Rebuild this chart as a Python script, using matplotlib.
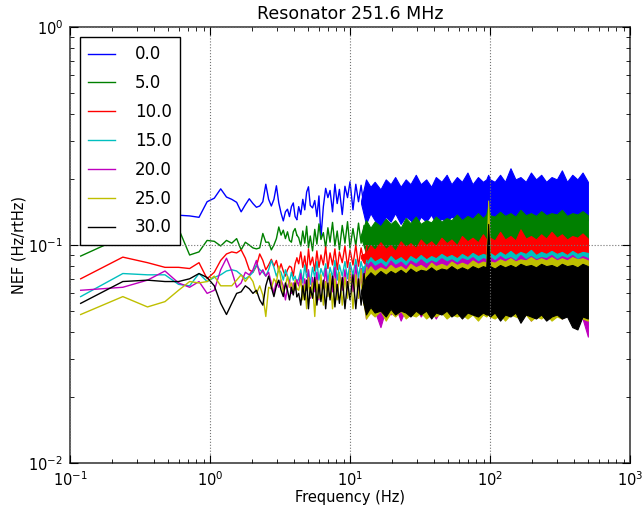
import numpy as np
import matplotlib
matplotlib.use("Agg")
import matplotlib.pyplot as plt

# FFT bin spacing of the spectra (Hz); the first 35 bins are drawn point by point
bin_hz = 0.1192
freq = bin_hz * np.arange(1, 36)

labels = ["0.0", "5.0", "10.0", "15.0", "20.0", "25.0", "30.0"]
colors = ["b", "g", "r", "c", "m", "y", "k"]

# low-frequency values (Hz/rtHz)
blue = [0.150, 0.145, 0.150, 0.140, 0.137, 0.136, 0.134, 0.158, 0.164, 0.181, 0.166, 0.162,
        0.157, 0.142, 0.153, 0.163, 0.155, 0.149, 0.151, 0.158, 0.190, 0.162, 0.151, 0.162,
        0.187, 0.156, 0.140, 0.129, 0.142, 0.146, 0.135, 0.150, 0.156, 0.135, 0.131]
green = [0.089, 0.109, 0.111, 0.119, 0.119, 0.090, 0.093, 0.105, 0.104, 0.099, 0.105, 0.102,
         0.107, 0.095, 0.103, 0.100, 0.097, 0.096, 0.097, 0.113, 0.103, 0.103, 0.095, 0.100,
         0.107, 0.121, 0.111, 0.117, 0.107, 0.115, 0.105, 0.103, 0.115, 0.119, 0.111]
red = [0.070, 0.088, 0.083, 0.079, 0.079, 0.078, 0.083, 0.070, 0.075, 0.085, 0.091, 0.093,
       0.092, 0.095, 0.087, 0.077, 0.075, 0.080, 0.091, 0.085, 0.077, 0.081, 0.086, 0.080,
       0.085, 0.076, 0.082, 0.076, 0.072, 0.077, 0.080, 0.079, 0.072, 0.082, 0.087]
cyan = [0.058, 0.074, 0.073, 0.073, 0.066, 0.065, 0.074, 0.068, 0.071, 0.073, 0.076, 0.077,
        0.076, 0.073, 0.070, 0.072, 0.075, 0.081, 0.077, 0.075, 0.072, 0.077, 0.085, 0.079,
        0.072, 0.077, 0.075, 0.069, 0.077, 0.072, 0.068, 0.075, 0.069, 0.072, 0.067]
magenta = [0.062, 0.064, 0.069, 0.076, 0.067, 0.064, 0.068, 0.060, 0.062, 0.077, 0.087, 0.076,
           0.064, 0.067, 0.075, 0.073, 0.077, 0.085, 0.073, 0.077, 0.072, 0.075, 0.067, 0.060,
           0.069, 0.064, 0.069, 0.065, 0.056, 0.064, 0.069, 0.060, 0.067, 0.062, 0.069]
yellow = [0.048, 0.058, 0.052, 0.055, 0.062, 0.068, 0.067, 0.068, 0.072, 0.065, 0.065, 0.065,
          0.069, 0.073, 0.068, 0.072, 0.068, 0.060, 0.065, 0.059, 0.047, 0.064, 0.063, 0.070,
          0.067, 0.080, 0.069, 0.060, 0.065, 0.072, 0.064, 0.067, 0.060, 0.069, 0.063]
black = [0.054, 0.068, 0.069, 0.068, 0.068, 0.070, 0.074, 0.071, 0.065, 0.054, 0.048, 0.054,
         0.060, 0.061, 0.065, 0.063, 0.060, 0.062, 0.056, 0.053, 0.065, 0.072, 0.064, 0.058,
         0.065, 0.069, 0.062, 0.058, 0.067, 0.062, 0.056, 0.064, 0.059, 0.067, 0.058]

# 4-13 Hz: the visible zig-zag of each trace (peaks and troughs)
trace_f = [4.3, 4.45, 4.6, 4.75, 4.9, 5.05, 5.2, 5.4, 5.6, 5.8,
           6.0, 6.2, 6.45, 6.7, 6.95, 7.2, 7.5, 7.8, 8.1, 8.4,
           8.8, 9.2, 9.6, 10.0, 10.5, 11.0, 11.5, 12.0, 12.6, 13.2]
blue_tr = [0.15, 0.138, 0.162, 0.145, 0.175, 0.185, 0.152, 0.148, 0.16, 0.135,
           0.168, 0.108, 0.15, 0.182, 0.165, 0.178, 0.142, 0.19, 0.155, 0.18,
           0.138, 0.186, 0.165, 0.195, 0.145, 0.19, 0.158, 0.188, 0.148, 0.185]
green_tr = [0.108, 0.099, 0.116, 0.102, 0.122, 0.097, 0.11, 0.094, 0.118, 0.101,
            0.125, 0.106, 0.114, 0.097, 0.12, 0.103, 0.127, 0.099, 0.116, 0.095,
            0.123, 0.102, 0.128, 0.097, 0.119, 0.099, 0.126, 0.102, 0.123, 0.098]
red_tr = [0.082, 0.093, 0.079, 0.089, 0.075, 0.096, 0.081, 0.088, 0.076, 0.094,
          0.079, 0.09, 0.081, 0.098, 0.078, 0.092, 0.081, 0.096, 0.077, 0.093,
          0.083, 0.099, 0.079, 0.095, 0.081, 0.1, 0.08, 0.097, 0.083, 0.099]
cyan_tr = [0.07, 0.077, 0.067, 0.081, 0.071, 0.076, 0.066, 0.079, 0.071, 0.084,
           0.069, 0.078, 0.072, 0.082, 0.068, 0.079, 0.071, 0.085, 0.069, 0.081,
           0.072, 0.084, 0.07, 0.083, 0.073, 0.086, 0.071, 0.084, 0.073, 0.085]
magenta_tr = [0.065, 0.074, 0.059, 0.07, 0.062, 0.077, 0.057, 0.071, 0.061, 0.075,
              0.056, 0.07, 0.063, 0.078, 0.059, 0.073, 0.061, 0.079, 0.058, 0.074,
              0.062, 0.077, 0.059, 0.079, 0.061, 0.081, 0.057, 0.078, 0.061, 0.082]
yellow_tr = [0.062, 0.069, 0.056, 0.066, 0.051, 0.071, 0.058, 0.067, 0.047, 0.069,
             0.057, 0.073, 0.053, 0.068, 0.058, 0.074, 0.051, 0.07, 0.056, 0.075,
             0.053, 0.071, 0.057, 0.077, 0.051, 0.073, 0.057, 0.077, 0.053, 0.079]
black_tr = [0.06, 0.053, 0.065, 0.056, 0.069, 0.051, 0.064, 0.057, 0.071, 0.053,
            0.066, 0.055, 0.069, 0.051, 0.067, 0.056, 0.072, 0.052, 0.066, 0.054,
            0.071, 0.051, 0.068, 0.056, 0.073, 0.051, 0.07, 0.053, 0.074, 0.051]

# above ~12 Hz the traces fill solid bands: upper / lower edge of each band
env_f = [12, 13, 14, 15, 16.5, 18, 19.5, 21, 23, 25,
         27, 29.5, 32, 35, 38, 41, 45, 49, 53, 58,
         63, 69, 75, 82, 89, 94, 97, 100, 108, 118,
         128, 140, 152, 165, 180, 196, 213, 232, 252, 275,
         300, 326, 355, 387, 421, 458, 500]
blue_hi = [0.16, 0.2, 0.185, 0.195, 0.18, 0.2, 0.19, 0.205, 0.185, 0.2,
           0.19, 0.21, 0.19, 0.2, 0.185, 0.205, 0.195, 0.21, 0.19, 0.205,
           0.195, 0.215, 0.19, 0.205, 0.195, 0.2, 0.21, 0.2, 0.195, 0.21,
           0.195, 0.225, 0.2, 0.205, 0.195, 0.215, 0.2, 0.21, 0.195, 0.205,
           0.2, 0.22, 0.195, 0.21, 0.2, 0.215, 0.195]
blue_lo = [0.155, 0.125, 0.14, 0.13, 0.118, 0.135, 0.128, 0.14, 0.125, 0.135,
           0.13, 0.122, 0.135, 0.128, 0.138, 0.125, 0.132, 0.128, 0.135, 0.13,
           0.13, 0.13, 0.13, 0.13, 0.13, 0.13, 0.13, 0.13, 0.13, 0.13,
           0.13, 0.13, 0.13, 0.13, 0.13, 0.13, 0.13, 0.13, 0.13, 0.13,
           0.13, 0.13, 0.13, 0.13, 0.13, 0.13, 0.13]
green_hi = [0.112, 0.13, 0.12, 0.128, 0.122, 0.132, 0.125, 0.13, 0.12, 0.133,
            0.126, 0.135, 0.125, 0.13, 0.127, 0.135, 0.128, 0.133, 0.13, 0.138,
            0.13, 0.136, 0.132, 0.14, 0.133, 0.138, 0.15, 0.137, 0.135, 0.142,
            0.136, 0.14, 0.135, 0.145, 0.137, 0.14, 0.136, 0.143, 0.137, 0.14,
            0.138, 0.145, 0.136, 0.14, 0.138, 0.143, 0.137]
green_lo = [0.108, 0.092, 0.097, 0.09, 0.096, 0.093, 0.098, 0.094, 0.097, 0.095,
            0.098, 0.095, 0.099, 0.097, 0.1, 0.098, 0.1, 0.1, 0.1, 0.1,
            0.1, 0.1, 0.1, 0.1, 0.1, 0.1, 0.1, 0.1, 0.1, 0.1,
            0.1, 0.1, 0.1, 0.1, 0.1, 0.1, 0.1, 0.1, 0.1, 0.1,
            0.1, 0.1, 0.1, 0.1, 0.1, 0.1, 0.1]
red_hi = [0.09, 0.092, 0.1, 0.095, 0.103, 0.096, 0.1, 0.094, 0.104, 0.098,
          0.102, 0.097, 0.106, 0.1, 0.104, 0.099, 0.108, 0.102, 0.106, 0.1,
          0.11, 0.104, 0.108, 0.103, 0.112, 0.106, 0.11, 0.108, 0.105, 0.115,
          0.106, 0.11, 0.105, 0.118, 0.107, 0.11, 0.106, 0.112, 0.107, 0.115,
          0.108, 0.112, 0.106, 0.11, 0.108, 0.113, 0.107]
red_lo = [0.087, 0.08, 0.075, 0.079, 0.077, 0.08, 0.076, 0.079, 0.077, 0.08,
          0.078, 0.08, 0.078, 0.08, 0.079, 0.08, 0.08, 0.08, 0.08, 0.08,
          0.08, 0.08, 0.08, 0.08, 0.08, 0.08, 0.08, 0.08, 0.08, 0.08,
          0.08, 0.08, 0.08, 0.08, 0.08, 0.08, 0.08, 0.08, 0.08, 0.08,
          0.08, 0.08, 0.08, 0.08, 0.08, 0.08, 0.08]
cyan_hi = [0.078, 0.082, 0.088, 0.084, 0.087, 0.083, 0.089, 0.085, 0.088, 0.084,
           0.089, 0.086, 0.09, 0.086, 0.089, 0.087, 0.091, 0.088, 0.09, 0.087,
           0.091, 0.088, 0.092, 0.089, 0.091, 0.09, 0.09, 0.092, 0.089, 0.093,
           0.09, 0.094, 0.09, 0.093, 0.091, 0.095, 0.09, 0.093, 0.091, 0.094,
           0.091, 0.093, 0.09, 0.094, 0.091, 0.093, 0.092]
cyan_lo = [0.076, 0.064, 0.067, 0.063, 0.066, 0.065, 0.067, 0.064, 0.066, 0.065,
           0.067, 0.066, 0.067, 0.066, 0.068, 0.066, 0.068, 0.067, 0.068, 0.068,
           0.068, 0.068, 0.068, 0.068, 0.068, 0.068, 0.068, 0.068, 0.068, 0.068,
           0.068, 0.068, 0.068, 0.068, 0.068, 0.068, 0.068, 0.068, 0.068, 0.068,
           0.068, 0.068, 0.068, 0.068, 0.068, 0.068, 0.068]
magenta_hi = [0.07, 0.079, 0.084, 0.08, 0.083, 0.079, 0.085, 0.081, 0.084, 0.08,
              0.085, 0.082, 0.086, 0.082, 0.085, 0.083, 0.087, 0.084, 0.086, 0.083,
              0.087, 0.085, 0.088, 0.084, 0.087, 0.086, 0.086, 0.088, 0.085, 0.089,
              0.086, 0.088, 0.085, 0.09, 0.086, 0.089, 0.086, 0.088, 0.087, 0.09,
              0.086, 0.089, 0.087, 0.09, 0.086, 0.089, 0.087]
magenta_lo = [0.068, 0.046, 0.053, 0.05, 0.042, 0.051, 0.048, 0.053, 0.045, 0.051,
              0.049, 0.052, 0.047, 0.051, 0.05, 0.046, 0.051, 0.049, 0.052, 0.048,
              0.05, 0.047, 0.051, 0.049, 0.05, 0.048, 0.05, 0.05, 0.049, 0.046,
              0.05, 0.048, 0.05, 0.047, 0.049, 0.045, 0.05, 0.048, 0.047, 0.05,
              0.048, 0.046, 0.049, 0.047, 0.048, 0.046, 0.038]
yellow_hi = [0.066, 0.075, 0.08, 0.076, 0.079, 0.077, 0.081, 0.078, 0.08, 0.077,
             0.082, 0.079, 0.081, 0.078, 0.083, 0.08, 0.082, 0.08, 0.084, 0.081,
             0.083, 0.081, 0.085, 0.082, 0.084, 0.083, 0.16, 0.084, 0.083, 0.086,
             0.084, 0.087, 0.084, 0.086, 0.085, 0.088, 0.085, 0.087, 0.085, 0.088,
             0.085, 0.087, 0.085, 0.088, 0.086, 0.087, 0.085]
yellow_lo = [0.064, 0.046, 0.049, 0.047, 0.05, 0.045, 0.049, 0.047, 0.05, 0.046,
             0.048, 0.047, 0.049, 0.046, 0.048, 0.047, 0.049, 0.046, 0.048, 0.047,
             0.048, 0.046, 0.048, 0.045, 0.048, 0.047, 0.048, 0.047, 0.046, 0.048,
             0.045, 0.048, 0.047, 0.046, 0.048, 0.045, 0.047, 0.046, 0.048, 0.045,
             0.047, 0.046, 0.048, 0.045, 0.047, 0.046, 0.045]
black_hi = [0.062, 0.071, 0.075, 0.072, 0.076, 0.073, 0.076, 0.074, 0.077, 0.074,
            0.078, 0.075, 0.077, 0.076, 0.079, 0.076, 0.078, 0.077, 0.08, 0.077,
            0.079, 0.077, 0.08, 0.078, 0.08, 0.079, 0.125, 0.08, 0.078, 0.081,
            0.079, 0.081, 0.079, 0.082, 0.08, 0.081, 0.079, 0.082, 0.08, 0.081,
            0.079, 0.082, 0.08, 0.081, 0.079, 0.082, 0.08]
black_lo = [0.06, 0.048, 0.052, 0.049, 0.05, 0.047, 0.051, 0.048, 0.05, 0.049,
            0.047, 0.05, 0.048, 0.05, 0.046, 0.049, 0.048, 0.05, 0.047, 0.049,
            0.046, 0.049, 0.048, 0.047, 0.049, 0.048, 0.048, 0.047, 0.049, 0.045,
            0.048, 0.047, 0.049, 0.044, 0.048, 0.047, 0.046, 0.048, 0.045, 0.047,
            0.048, 0.046, 0.047, 0.042, 0.041, 0.047, 0.046]

series = [blue, green, red, cyan, magenta, yellow, black]
traces = [blue_tr, green_tr, red_tr, cyan_tr, magenta_tr, yellow_tr, black_tr]
highs = [blue_hi, green_hi, red_hi, cyan_hi, magenta_hi, yellow_hi, black_hi]
lows = [blue_lo, green_lo, red_lo, cyan_lo, magenta_lo, yellow_lo, black_lo]

fig = plt.figure(figsize=(6.44, 5.11), dpi=100)
ax = fig.add_axes([0.1087, 0.0939, 0.8696, 0.8532])

handles = []
for i in range(len(series)):
    z = 1.0 + 0.2 * i
    c = colors[i]
    ln, = ax.plot(freq, series[i], color=c, lw=1.0, zorder=z, label=labels[i])
    # join the last bin onto the zig-zag part
    ax.plot([freq[-1]] + trace_f, [series[i][-1]] + traces[i], color=c, lw=1.0, zorder=z)
    ax.fill_between(env_f, lows[i], highs[i], facecolor=c, edgecolor=c, lw=0.8, zorder=z)
    handles.append(ln)

ax.set_xscale("log")
ax.set_yscale("log")
ax.set_xlim(0.1, 1000)
ax.set_ylim(0.01, 1)

# grid on top of the traces, like the old default
ax.set_axisbelow(False)
ax.grid(True, which="major", ls=":", color="0.45", lw=0.8)

ax.tick_params(which="both", direction="in", top=True, right=True, labelsize=10.5)
ax.tick_params(which="major", length=6, width=0.8)
ax.tick_params(which="minor", length=3, width=0.6)
ax.tick_params(axis="x", pad=5)
ax.tick_params(axis="y", pad=5)
for sp in ax.spines.values():
    sp.set_linewidth(1.2)
    sp.set_color("0.25")

ax.set_title("Resonator 251.6 MHz", fontsize=12.5)
ax.set_xlabel("Frequency (Hz)", fontsize=10.5, labelpad=1)
ax.set_ylabel("NEF (Hz/rtHz)", fontsize=10.5, labelpad=1)

leg = ax.legend(handles=handles, loc="upper left", fontsize=12, fancybox=False,
                borderaxespad=0.6, borderpad=0.5, labelspacing=0.65,
                handlelength=1.6, handletextpad=1.2, framealpha=1)
leg.get_frame().set_edgecolor("black")
leg.get_frame().set_linewidth(1.0)
leg.set_zorder(5)

fig.savefig("out.png", dpi=100)
